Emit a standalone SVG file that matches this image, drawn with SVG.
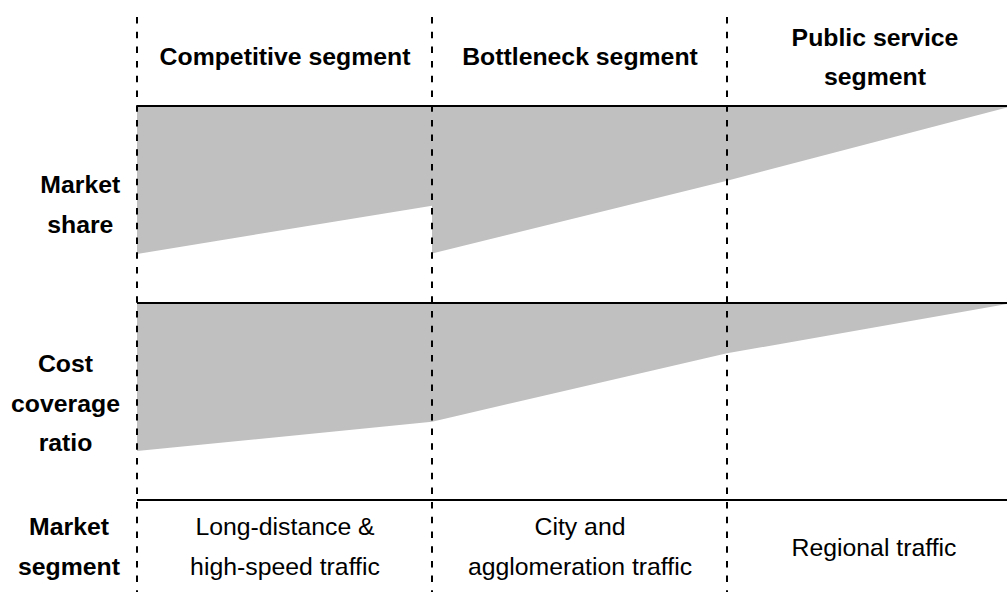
<svg xmlns="http://www.w3.org/2000/svg" width="1007" height="592" viewBox="0 0 1007 592">
  <style>
    .hdr { font-family: "Liberation Sans", Arial, Helvetica, sans-serif; font-size: 24.8px; font-weight: bold; fill: #000; text-anchor: middle; }
    .txt { font-family: "Liberation Sans", Arial, Helvetica, sans-serif; font-size: 24.8px; fill: #000; text-anchor: middle; }
    .area { fill: #c0c0c0; stroke: none; }
    .rule { stroke: #000; stroke-width: 2; fill: none; }
    .divider { stroke: #000; stroke-width: 2; stroke-dasharray: 6.5 8.2; fill: none; }
  </style>

  <!-- shaded bands -->
  <g id="market-share-band">
    <polygon class="area" points="137,106 432,106 432,205.7 137,254"/>
    <polygon class="area" points="432,106 727,106 727,180.7 432,253.5"/>
    <polygon class="area" points="727,106 1007,106 1007,107.5 727,180.7"/>
  </g>
  <g id="cost-coverage-band">
    <polygon class="area" points="137,303 1007,303 1007,304 727,353.3 432,421.7 137,451"/>
  </g>

  <!-- horizontal rules and dashed column dividers -->
  <g id="connectors">
    <line class="rule" x1="137" y1="106" x2="1007" y2="106"/>
    <line class="rule" x1="137" y1="303" x2="1007" y2="303"/>
    <line class="rule" x1="137" y1="500" x2="1007" y2="500"/>
    <line class="divider" x1="137" y1="17" x2="137" y2="592"/>
    <line class="divider" x1="432" y1="17" x2="432" y2="592"/>
    <line class="divider" x1="727" y1="17" x2="727" y2="592"/>
  </g>

  <!-- column headers -->
  <g id="col-competitive">
    <text class="hdr" x="285" y="65">Competitive segment</text>
  </g>
  <g id="col-bottleneck">
    <text class="hdr" x="580" y="65">Bottleneck segment</text>
  </g>
  <g id="col-public">
    <text class="hdr" x="875" y="45.7">Public service</text>
    <text class="hdr" x="875" y="85">segment</text>
  </g>

  <!-- row labels -->
  <g id="row-market-share">
    <text class="hdr" x="80.3" y="193.3">Market</text>
    <text class="hdr" x="80.3" y="233.3">share</text>
  </g>
  <g id="row-cost-coverage">
    <text class="hdr" x="65.5" y="372">Cost</text>
    <text class="hdr" x="65.5" y="411.5">coverage</text>
    <text class="hdr" x="65.5" y="451">ratio</text>
  </g>
  <g id="row-market-segment">
    <text class="hdr" x="69" y="535">Market</text>
    <text class="hdr" x="69" y="575">segment</text>
  </g>

  <!-- market segment cells -->
  <g id="cell-long-distance">
    <text class="txt" x="285" y="535">Long-distance &amp;</text>
    <text class="txt" x="285" y="575">high-speed traffic</text>
  </g>
  <g id="cell-city">
    <text class="txt" x="580" y="535">City and</text>
    <text class="txt" x="580" y="575">agglomeration traffic</text>
  </g>
  <g id="cell-regional">
    <text class="txt" x="874" y="556">Regional traffic</text>
  </g>
</svg>
